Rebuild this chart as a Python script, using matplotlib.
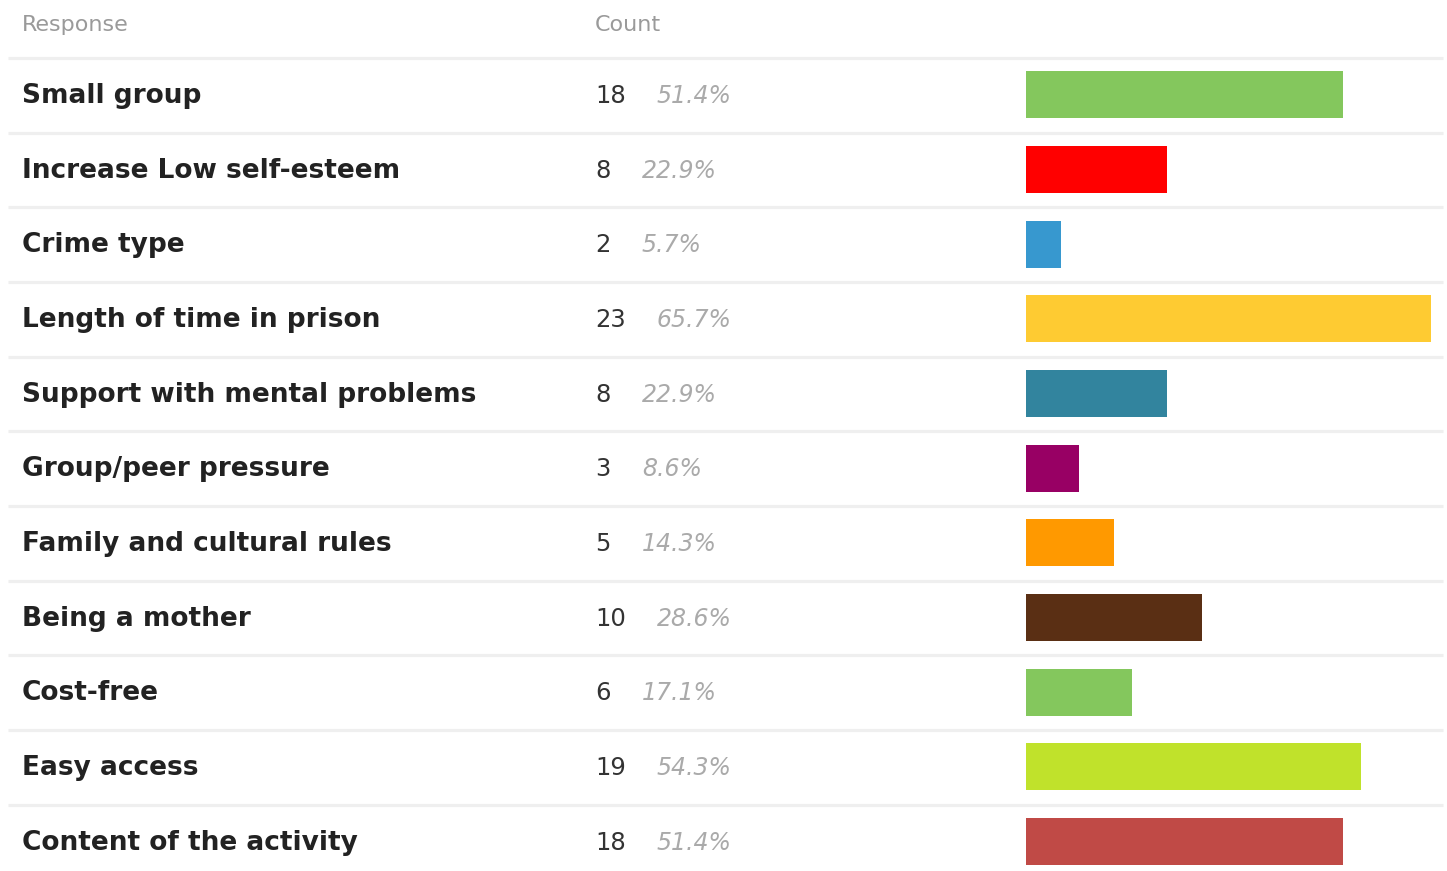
import matplotlib
matplotlib.use("Agg")
import matplotlib.pyplot as plt

# --- data -------------------------------------------------------------------
responses = ["Small group", "Increase Low self-esteem", "Crime type",
             "Length of time in prison", "Support with mental problems",
             "Group/peer pressure", "Family and cultural rules", "Being a mother",
             "Cost-free", "Easy access", "Content of the activity"]
counts = [18, 8, 2, 23, 8, 3, 5, 10, 6, 19, 18]
percents = ["51.4%", "22.9%", "5.7%", "65.7%", "22.9%", "8.6%", "14.3%",
            "28.6%", "17.1%", "54.3%", "51.4%"]
colors = ["#84c75d", "#ff0000", "#3798cf", "#fecb32", "#32849e", "#980064",
          "#ff9900", "#5a2f14", "#84c75d", "#c0e22b", "#c04a46"]

# --- layout (pixels) ----------------------------------------------------------
W, H = 1447, 871
ROW_H = 74.65
ROW0 = 95          # centre of first row
SEP0 = 58          # first separator line

fig = plt.figure(figsize=(W / 100, H / 100), dpi=100)
ax = fig.add_axes([0, 0, 1, 1])
ax.set_xlim(0, W); ax.set_ylim(H, 0); ax.axis("off")

ax.text(22, 25, "Response", fontsize=16, color="#9a9a9a", va="center")
ax.text(595, 25, "Count", fontsize=16, color="#9a9a9a", va="center")

for i in range(len(responses)):
    y = SEP0 + i * ROW_H
    ax.plot([8, 1443], [y, y], color="#efefef", lw=2.3, solid_capstyle="butt")

centres = [ROW0 + i * ROW_H for i in range(len(responses))]
for y, lab, c, p in zip(centres, responses, counts, percents):
    ax.text(22, y + 8, lab, fontsize=19, fontweight="bold", color="#222222", va="baseline")
    ax.text(595, y + 8, str(c), fontsize=17.5, color="#333333", va="baseline")
    ax.text(627 + 15 * len(str(c)), y + 8, p, fontsize=17, style="italic",
            color="#aaaaaa", va="baseline")

# bars in their own axes, sharing the pixel y scale
bx = fig.add_axes([1026 / W, 0, (1431 - 1026) / W, 1])
bx.set_ylim(H, 0); bx.set_xlim(0, max(counts)); bx.axis("off")
bx.barh(centres, counts, height=47, color=colors, left=0)

fig.savefig("out.png", dpi=100)
